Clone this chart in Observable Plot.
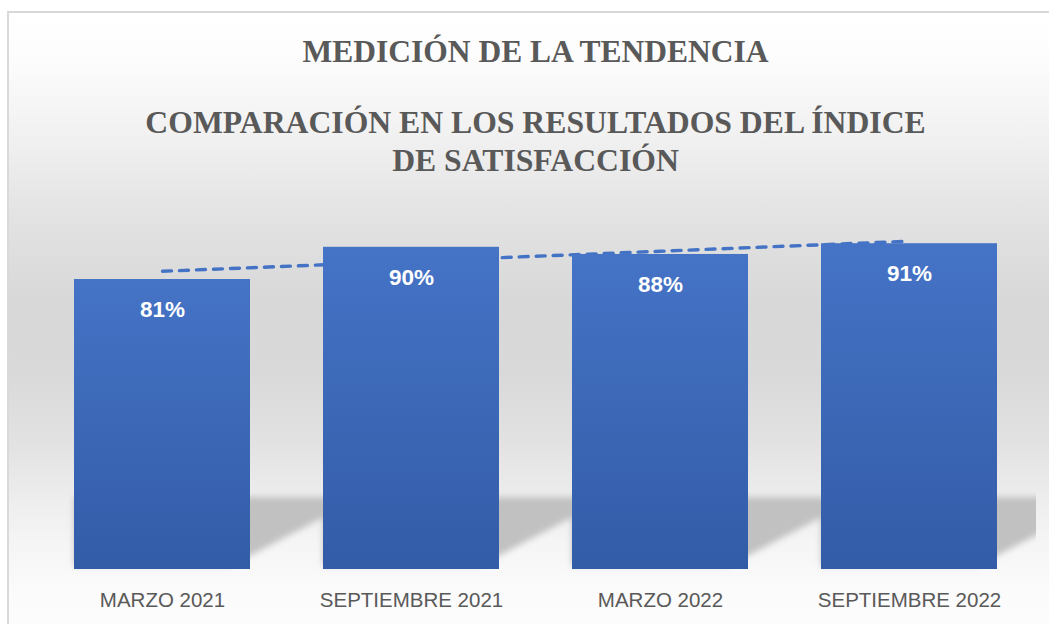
<!DOCTYPE html>
<html><head><meta charset="utf-8">
<script src="https://cdn.jsdelivr.net/npm/d3@7"></script>
<script src="https://cdn.jsdelivr.net/npm/@observablehq/plot@0.6"></script>
<style>
html,body{margin:0;padding:0;background:#fff;width:1049px;height:624px;overflow:hidden;}
#bg{position:absolute;left:7px;top:11px;width:1100px;height:700px;box-sizing:border-box;
 border-left:2px solid #d9d9d9;border-top:2px solid #d9d9d9;
 background:linear-gradient(to bottom,#ffffff 0px,#fdfdfd 40px,#f6f6f6 90px,#eeeeee 140px,#e5e5e5 190px,#dedede 240px,#d8d8d8 290px,#d9d9d9 360px,#e2e2e2 430px,#eeeeee 490px,#f5f5f5 530px,#fafafa 570px,#fdfdfd 613px,#ffffff 700px);}
#chart{position:absolute;left:0;top:0;}
</style></head><body><div id="bg"></div><div id="chart"></div>
<script>
const periods = ["MARZO 2021", "SEPTIEMBRE 2021", "MARZO 2022", "SEPTIEMBRE 2022"];
const satisfaction = [81, 90, 88, 91];
const titleText = "MEDICIÓN DE LA TENDENCIA";
const subtitleText = "COMPARACIÓN EN LOS RESULTADOS DEL ÍNDICE\nDE SATISFACCIÓN";

// linear trend (least squares) over the period index
const idx = periods.map((_, i) => i + 1);
const mx = d3.mean(idx), my = d3.mean(satisfaction);
const slope = d3.sum(idx.map((x, i) => (x - mx) * (satisfaction[i] - my))) / d3.sum(idx.map(x => (x - mx) ** 2));
const trend = idx.map(x => my + slope * (x - mx));

const rows = periods.map((p, i) => ({period: p, value: satisfaction[i], trend: trend[i]}));

function shadowMark(index, scales) {
  const x = scales.x, y = scales.y;
  const bw = x.bandwidth();
  const y0 = y(0);
  const g = d3.create("svg:g").attr("clip-path", "url(#shadowClip)");
  const inner = g.append("g").attr("filter", "url(#shadowBlur)");
  for (const p of x.domain()) {
    const x0 = x(p), x1 = x0 + bw;
    inner.append("polygon")
      .attr("points", [[x0, y0 - 72], [x1 + 112, y0 - 72], [x1 - 20, y0 - 3], [x0, y0 - 3]].map(d => d.join(",")).join(" "))
      .attr("fill", "#c1c1c1");
  }
  return g.node();
}

const serif = "'Liberation Serif','Times New Roman',serif";
const sans = "'Liberation Sans',Arial,sans-serif";

const plot = Plot.plot({
  width: 1049, height: 624,
  marginLeft: 36, marginRight: 15, marginTop: 211, marginBottom: 55,
  style: {background: "transparent", overflow: "visible", fontFamily: sans},
  x: {domain: periods, paddingInner: 0.294, paddingOuter: 0.147, axis: null, label: null},
  y: {domain: [0, 100], axis: null},
  marks: [
    shadowMark,
    Plot.line(rows, {x: "period", y: "trend", stroke: "#4472c4", strokeWidth: 3.4, strokeDasharray: "9,8", strokeLinecap: "round"}),
    Plot.barY(rows, {x: "period", y: "value", fill: "url(#barGrad)"}),
    Plot.text(rows, {x: "period", y: "value", text: d => d.value + "%", dy: 30, fill: "white", fontWeight: "bold", fontSize: 22.5, fontFamily: sans, lineAnchor: "middle"}),
    Plot.axisX({tickSize: 0, tickPadding: 23, fontSize: 20.5, color: "#595959", fontFamily: sans, label: null}),
    Plot.text([titleText], {text: d => d, frameAnchor: "top", dy: -150, lineAnchor: "bottom", fontFamily: serif, fontWeight: "bold", fontSize: 31.5, fill: "#595959"}),
    Plot.text([subtitleText], {text: d => d, frameAnchor: "top", dy: -41, lineAnchor: "bottom", lineHeight: 1.17, fontFamily: serif, fontWeight: "bold", fontSize: 31.7, fill: "#595959"})
  ]
});

const defs = d3.select(plot).insert("defs", ":first-child");
const lg = defs.append("linearGradient").attr("id", "barGrad").attr("x1", 0).attr("y1", 0).attr("x2", 0).attr("y2", 1);
lg.append("stop").attr("offset", "0%").attr("stop-color", "#4573c6");
lg.append("stop").attr("offset", "100%").attr("stop-color", "#335ca7");
const f = defs.append("filter").attr("id", "shadowBlur").attr("x", "-20%").attr("y", "-20%").attr("width", "140%").attr("height", "140%");
f.append("feGaussianBlur").attr("stdDeviation", 3);
defs.append("clipPath").attr("id", "shadowClip").append("rect").attr("x", 0).attr("y", 0).attr("width", 1036).attr("height", 624);

document.getElementById("chart").appendChild(plot);
</script>
</body></html>
